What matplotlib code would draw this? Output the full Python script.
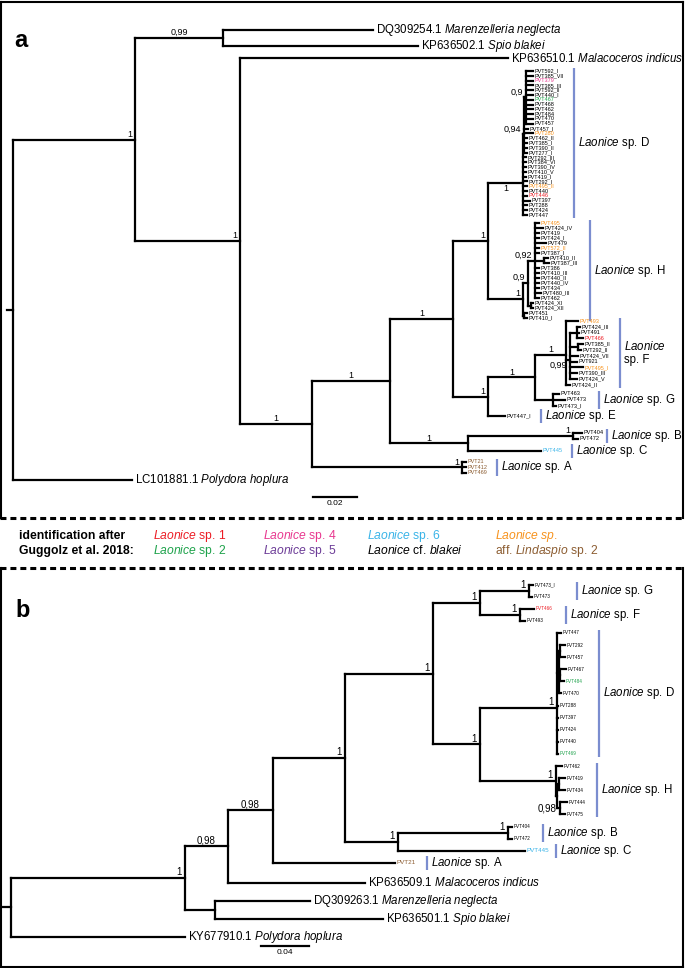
import re
import matplotlib
matplotlib.use('Agg')
import matplotlib.pyplot as plt

plt.rcParams['font.family'] = ['Liberation Sans', 'DejaVu Sans']
plt.rcParams['mathtext.fontset'] = 'custom'
plt.rcParams['mathtext.rm'] = 'Liberation Sans'
plt.rcParams['mathtext.it'] = 'Liberation Sans:italic'
plt.rcParams['mathtext.bf'] = 'Liberation Sans:bold'

# ---------------- data: panel a (branch lengths in subst./site) ----------------
a_clade_D = """(((PVT592_I:0.0030,PVT385_VII:0.0032,PVT379:0.0030,PVT385_III:0.0033,PVT592_II:0.0031,
PVT440_I:0.0030,PVT467:0.0030,PVT468:0.0032,PVT462:0.0030,PVT484:0.0031,PVT470:0.0030,PVT457:0.0032)0.9:0.0009,
PVT457_I:0.0020,PVT280:0.0040,PVT462_II:0.0014,PVT385_I:0.0014,PVT390_II:0.0014,PVT277_I:0.0015)0.94:0.0005,
PVT292_III:0.0014,PVT384_VI:0.0015,PVT390_IV:0.0014,PVT410_V:0.0014,PVT419_I:0.0014,PVT292_I:0.0018,
PVT495_II:0.0018,PVT440:0.0018,PVT446:0.0018,PVT397:0.0030,PVT288:0.0020,PVT424:0.0018,PVT447:0.0018)1mb:0.0159"""
a_clade_H = """(((PVT495:0.0018,PVT424_IV:0.0036,PVT419:0.0018,PVT424_I:0.0018,PVT479:0.0050,PVT572_II:0.0018,
PVT387_I:0.0020,(PVT410_II:0.0020,PVT387_III:0.0025):0.0040,PVT386:0.0018,PVT410_III:0.0018,PVT440_II:0.0018,
PVT440_IV:0.0018,PVT434:0.0018,PVT480_III:0.0025,PVT462:0.0018)0.92:0.0032,
(PVT424_XI:0.0010,PVT424_XII:0.0010):0.0012)0.9:0.0023,(PVT451:0.0012,PVT410_I:0.0012):0.0005)1:0.0159"""
a_clade_F = """(PVT493:0.0055,((PVT424_III:0.0012,PVT491:0.0008,PVT466:0.0025):0.0032,
(PVT385_II:0.0022,PVT292_II:0.0016):0.0035,PVT424_VII:0.0036,PVT921:0.0032,PVT495_I:0.0060,
PVT390_III:0.0032,PVT424_V:0.0030)0.99b:0.0018,PVT424_II:0.0018)1m:0.0141"""
a_clade_G = "(PVT463:0.0027,PVT473:0.0055,PVT473_I:0.0014):0.0082"
a_clade_B = "(PVT404:0.0040,PVT472:0.0023)1:0.0477"
a_clade_A = "(PVT21:0.0018,PVT412:0.0018,PVT469:0.0018)1:0.0682"
a_ingroup = (f"(((({a_clade_D},{a_clade_H})1:0.0159,(({a_clade_F},{a_clade_G})1m:0.0214,PVT447_I:0.0077)1:0.0159)1m:0.0286,"
             f"({a_clade_B},PVT445:0.0332)1m:0.0355)1m:0.0355,{a_clade_A})1m:0.0327")
a_tree = f"(((Mar:0.0682,Spio:0.0886)0.99m:0.0400,(Mal:0.1218,{a_ingroup})1:0.0477)1:0.0555,Pol:0.0540)"

a_outgroups = {"Mar": ("DQ309254.1", "Marenzelleria neglecta"), "Spio": ("KP636502.1", "Spio blakei"),
               "Mal": ("KP636510.1", "Malacoceros indicus"), "Pol": ("LC101881.1", "Polydora hoplura")}
a_red = ["PVT446", "PVT466"]
a_pink = ["PVT379"]
a_green = ["PVT467"]
a_cyan = ["PVT445"]
a_orange = ["PVT280", "PVT495_II", "PVT495", "PVT572_II", "PVT493", "PVT495_I"]
a_brown = ["PVT21", "PVT412", "PVT469"]
a_clade_names = ["D", "H", "F", "G", "E", "B", "C", "A"]
a_clade_first = ["PVT592_I", "PVT495", "PVT493", "PVT463", "PVT447_I", "PVT404", "PVT445", "PVT21"]
a_clade_last = ["PVT447", "PVT410_I", "PVT424_II", "PVT473_I", "PVT447_I", "PVT472", "PVT445", "PVT469"]
a_scale_len = 0.02

# ---------------- data: panel b ----------------
b_clade_G = "(PVT473_I:0.0033,PVT473:0.0025)1:0.0408"
b_clade_F = "(PVT466:0.0117,PVT493:0.0042)1:0.0333"
b_clade_D = """(PVT447:0.0033,((PVT292:0.0042,PVT457:0.0042):0.0008,(PVT467:0.0046,PVT484:0.0033):0.0012,
PVT470:0.0017):0.0017,PVT288:0.0008,PVT397:0.0008,PVT424:0.0008,PVT440:0.0008,PVT469:0.0008)1:0.0642"""
b_clade_H = """(PVT462:0.0050,((PVT419:0.0046,PVT434:0.0046):0.0017,(PVT444:0.0060,PVT475:0.0043)0.98c:0.0020):0.0012)1:0.0633"""
b_clade_B = "(PVT404:0.0033,PVT472:0.0033)1:0.0917"
b_ingroup = (f"((({b_clade_G},{b_clade_F})1:0.0392,({b_clade_D},{b_clade_H})1:0.0392)1:0.0733,"
             f"({b_clade_B},PVT445:0.1058)1:0.0442)1:0.0600")
b_tree = f"(((({b_ingroup},PVT21:0.1017)0.98m:0.0375,Mal:0.1142)0.98m:0.0358,(Mar:0.0792,Spio:0.1400):0.0250)1:0.1450,Pol:0.1450)"

b_outgroups = {"Mar": ("DQ309263.1", "Marenzelleria neglecta"), "Spio": ("KP636501.1", "Spio blakei"),
               "Mal": ("KP636509.1", "Malacoceros indicus"), "Pol": ("KY677910.1", "Polydora hoplura")}
b_red = ["PVT466"]
b_green = ["PVT484", "PVT469"]
b_cyan = ["PVT445"]
b_brown = ["PVT21"]
b_clade_names = ["G", "F", "D", "H", "B", "C", "A"]
b_clade_first = ["PVT473_I", "PVT466", "PVT447", "PVT462", "PVT404", "PVT445", "PVT21"]
b_clade_last = ["PVT473", "PVT493", "PVT469", "PVT475", "PVT472", "PVT445", "PVT21"]
b_scale_len = 0.04

legend_row1 = ["identification after", r"$\mathit{Laonice}$ sp. 1", r"$\mathit{Laonice}$ sp. 4",
               r"$\mathit{Laonice}$ sp. 6", r"$\mathit{Laonice\ sp.}$"]
legend_row2 = ["Guggolz et al. 2018:", r"$\mathit{Laonice}$ sp. 2", r"$\mathit{Laonice}$ sp. 5",
               r"$\mathit{Laonice}$ cf. $\mathit{blakei}$", r"aff. $\mathit{Lindaspio}$ sp. 2"]

# ---------------- style ----------------
RED, PINK, CYAN, ORANGE = '#ec1c24', '#e8388f', '#3ab4e8', '#f7931e'
GREEN, PURPLE, BROWN, BAR = '#1ea24b', '#6c3c97', '#8c5d32', '#7b8dcf'
legend_c1 = ['black', RED, PINK, CYAN, ORANGE]
legend_c2 = ['black', GREEN, PURPLE, 'black', BROWN]


def parse_newick(s):
    s = ''.join(s.split())
    pos = 0

    def read():
        nonlocal pos
        node = {'children': [], 'label': '', 'length': 0.0}
        if s[pos] == '(':
            pos += 1
            node['children'].append(read())
            while s[pos] == ',':
                pos += 1
                node['children'].append(read())
            pos += 1
        start = pos
        while pos < len(s) and s[pos] not in ':,();':
            pos += 1
        node['label'] = s[start:pos]
        if pos < len(s) and s[pos] == ':':
            pos += 1
            start = pos
            while pos < len(s) and s[pos] not in ',();':
                pos += 1
            node['length'] = float(s[start:pos])
        return node
    return read()


def leaf_rows(start, rows):
    ys = []
    y = start
    for n, gap, step in rows:
        if ys:
            y += gap
        for k in range(n):
            if k:
                y += step
            ys.append(y)
    return ys


def layout(node, xp, ys):
    node['x'] = xp + node['length']
    if not node['children']:
        node['y'] = ys.pop(0)
    else:
        for c in node['children']:
            layout(c, node['x'], ys)
        node['y'] = sum(c['y'] for c in node['children']) / len(node['children'])


def draw_tree(ax, tree, ppu, leaf_fs, sup_fs, colors, outgroups, big=(), big_fs=4.5, lw=1.6):
    leaves = {}

    def rec(node, xp):
        ax.plot([xp, node['x']], [node['y'], node['y']], color='black', lw=lw,
                solid_capstyle='projecting')
        if node['children']:
            ys = [c['y'] for c in node['children']]
            ax.plot([node['x'], node['x']], [min(ys), max(ys)], color='black', lw=lw,
                    solid_capstyle='projecting')
            for c in node['children']:
                rec(c, node['x'])
            m = re.fullmatch(r'([0-9.]+)([a-z]*)', node['label'])
            if m:
                txt = m.group(1).replace('.', ',')
                mode = m.group(2)
                if 'm' in mode:
                    x, ha = (xp + node['x']) / 2, 'center'
                else:
                    x, ha = node['x'] - 3 / ppu, 'right'
                if 'b' in mode:
                    y, va = node['y'] + 1.5, 'top'
                elif 'c' in mode:
                    y, va = node['y'], 'center'
                else:
                    y, va = node['y'] - 0.8, 'bottom'
                ax.text(x, y, txt, ha=ha, va=va, fontsize=sup_fs)
        else:
            name = node['label']
            if name in outgroups:
                acc, sp = outgroups[name]
                sp = sp.replace(' ', r'\ ')
                t = ax.text(node['x'] + 3 / ppu, node['y'], f"{acc} $\\mathit{{{sp}}}$",
                            va='center', ha='left', fontsize=8.3)
            else:
                col = 'black'
                for c, names in colors:
                    if name in names:
                        col = c
                t = ax.text(node['x'] + 1.5 / ppu, node['y'], name, va='center', ha='left',
                            fontsize=big_fs if name in big else leaf_fs, color=col)
            leaves[name] = (node['y'], t)

    rec(tree, tree['x'])
    return leaves


def draw_clades(fig, ax, leaves, names, firsts, lasts, ppu, pad, extra, two_line=()):
    r = fig.canvas.get_renderer()
    inv = ax.transData.inverted()
    seq = list(leaves)
    for nm, f, l in zip(names, firsts, lasts):
        i0, i1 = seq.index(f), seq.index(l)
        members = seq[i0:i1 + 1]
        right = max(leaves[m][1].get_window_extent(r).x1 for m in members)
        bx = inv.transform((right, 0))[0] + (pad + extra.get(nm, 0)) / ppu
        y1, y2 = leaves[f][0] - 3, leaves[l][0] + 3
        if y2 - y1 < 14:
            cy = (y1 + y2) / 2
            y1, y2 = cy - 7, cy + 7
        ax.plot([bx, bx], [y1, y2], color=BAR, lw=1.6, solid_capstyle='butt')
        if nm in two_line:
            lab = r"$\mathit{Laonice}$" + "\nsp. " + nm
        else:
            lab = r"$\mathit{Laonice}$ sp. " + nm
        ax.text(bx + 4 / ppu, (y1 + y2) / 2, lab, va='center', ha='left', fontsize=8.3,
                linespacing=1.1)


fig = plt.figure(figsize=(6.85, 9.68), dpi=100)
W, H = 685, 968

# overlay in pixel coordinates
ax0 = fig.add_axes([0, 0, 1, 1])
ax0.set_xlim(0, W)
ax0.set_ylim(H, 0)
ax0.axis('off')
frame = dict(color='black', lw=1.5, solid_capstyle='projecting')
ax0.plot([1.5, 683.5], [1.5, 1.5], **frame)
ax0.plot([1.5, 1.5], [1.5, 518], **frame)
ax0.plot([683.5, 683.5], [1.5, 518], **frame)
ax0.plot([1.5, 1.5], [568, 966.5], **frame)
ax0.plot([683.5, 683.5], [568, 966.5], **frame)
ax0.plot([1.5, 683.5], [966.5, 966.5], **frame)
for yy in (518, 568):
    ax0.plot([0, W], [yy, yy], color='black', lw=2.2, linestyle=(0, (1.95, 1.3)))
for (x, c1, c2, t1, t2) in zip([19, 153, 263, 367, 495], legend_c1, legend_c2, legend_row1, legend_row2):
    wt = 'bold' if x == 19 else 'normal'
    ax0.text(x, 539, t1, color=c1, fontsize=8.7, fontweight=wt, va='baseline', ha='left')
    ax0.text(x, 554, t2, color=c2, fontsize=8.7, fontweight=wt, va='baseline', ha='left')
ax0.text(14, 47, 'a', fontsize=17, fontweight='bold', va='baseline', ha='left')
ax0.text(15, 617, 'b', fontsize=17, fontweight='bold', va='baseline', ha='left')

# ---------------- panel a ----------------
ppu_a = 2200.0
ax_a = fig.add_axes([0, 1 - 518 / H, 1, 518 / H])
ax_a.set_facecolor('none')
ax_a.set_xlim(-13 / ppu_a, (W - 13) / ppu_a)
ax_a.set_ylim(518, 0)
ax_a.axis('off')
tree_a = parse_newick(a_tree)
rows_a = [(1, 0, 0), (2, 16, 12), (31, 13, 4.8), (20, 8, 5.0), (12, 3, 5.8), (3, 9, 6), (1, 10, 0),
          (2, 17, 6), (1, 12, 0), (3, 11, 5.5), (1, 7, 0)]
layout(tree_a, 0.0, leaf_rows(30, rows_a))
ax_a.plot([-6 / ppu_a, 0], [tree_a['y'], tree_a['y']], color='black', lw=1.6)
cols_a = [(RED, a_red), (PINK, a_pink), (GREEN, a_green), (CYAN, a_cyan), (ORANGE, a_orange), (BROWN, a_brown)]
leaves_a = draw_tree(ax_a, tree_a, ppu_a, 4.0, 6.5, cols_a, a_outgroups)
draw_clades(fig, ax_a, leaves_a, a_clade_names, a_clade_first, a_clade_last, ppu_a, 10,
            {"H": 2, "B": -7, "G": 2, "C": -1}, two_line=("F",))
sx = 300 / ppu_a
ax_a.plot([sx, sx + a_scale_len], [497, 497], color='black', lw=1.6)
ax_a.text(sx + a_scale_len / 2, 500, "0.02", ha='center', va='top', fontsize=6)

# ---------------- panel b ----------------
ppu_b = 1200.0
ax_b = fig.add_axes([0, 0, 1, 400 / H])
ax_b.set_facecolor('none')
ax_b.set_xlim(-11 / ppu_b, (W - 11) / ppu_b)
ax_b.set_ylim(H, 568)
ax_b.axis('off')
tree_b = parse_newick(b_tree)
rows_b = [(24, 0, 12.1), (4, 20, 18)]
layout(tree_b, 0.0, leaf_rows(584.5, rows_b))
ax_b.plot([-8 / ppu_b, 0], [tree_b['y'], tree_b['y']], color='black', lw=1.6)
cols_b = [(RED, b_red), (GREEN, b_green), (CYAN, b_cyan), (BROWN, b_brown)]
leaves_b = draw_tree(ax_b, tree_b, ppu_b, 3.3, 7, cols_b, b_outgroups, big=("PVT445", "PVT21"))
draw_clades(fig, ax_b, leaves_b, b_clade_names, b_clade_first, b_clade_last, ppu_b, 7,
            {"G": 15, "F": 7, "D": 8, "H": 5, "B": 6, "A": 4})
sx = 250 / ppu_b
ax_b.plot([sx, sx + b_scale_len], [946, 946], color='black', lw=1.6)
ax_b.text(sx + b_scale_len / 2, 949, "0.04", ha='center', va='top', fontsize=6)

fig.savefig('out.png', dpi=100)
